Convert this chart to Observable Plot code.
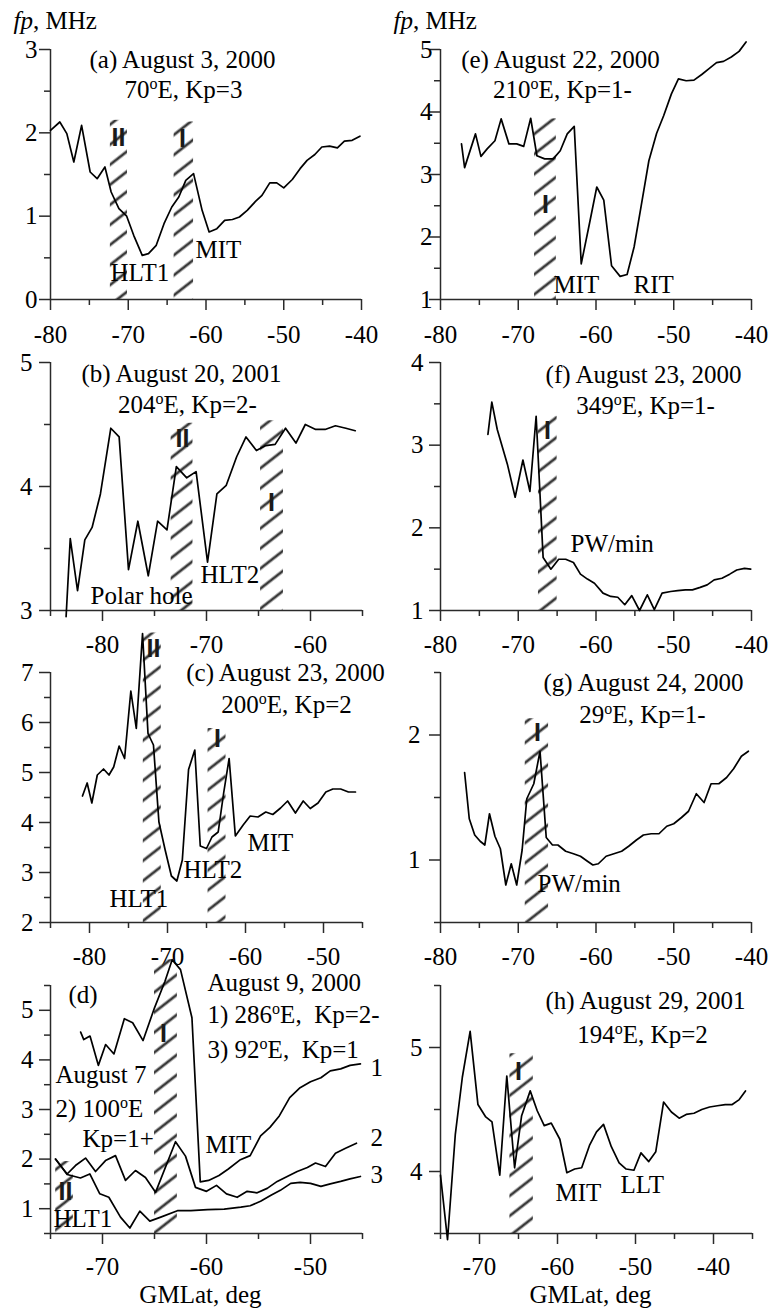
<!DOCTYPE html>
<html><head><meta charset="utf-8">
<script src="https://cdn.jsdelivr.net/npm/d3@7"></script>
<script src="https://cdn.jsdelivr.net/npm/@observablehq/plot@0.6"></script>
<style>
html,body{margin:0;padding:0;background:#fff;overflow:hidden}
#wrap{position:relative;width:771px;height:1309px}
#wrap svg{position:absolute;left:0;top:0;font-family:'Liberation Serif','Times New Roman',serif}
#wrap text{white-space:pre}
#wrap g[aria-label*="tick label"] text{font-family:'Liberation Serif','Times New Roman',serif;font-size:25px}
</style></head><body><div id="wrap"></div>
<script>
// ---------- DATA ----------
// (a) August 3, 2000
const aLat = [-80,-78.8,-77.9,-77.0,-76.0,-74.9,-74.0,-73.0,-72.2,-71.2,-70.2,-69.3,-68.2,-67.4,-66.4,-65.4,-64.4,-63.5,-62.6,-61.6,-60.5,-59.6,-58.6,-57.6,-56.6,-55.7,-54.7,-53.6,-52.8,-51.8,-50.9,-50.0,-48.9,-47.9,-47.0,-46.0,-45.1,-44.1,-43.1,-42.2,-41.2,-40.2];
const aFp = [2.03,2.13,1.99,1.65,2.09,1.53,1.45,1.59,1.29,1.09,1.00,0.77,0.53,0.55,0.65,0.91,1.11,1.23,1.43,1.51,1.07,0.81,0.85,0.95,0.96,0.99,1.07,1.18,1.25,1.40,1.40,1.34,1.44,1.57,1.67,1.74,1.83,1.84,1.82,1.90,1.91,1.96];
const aBandLo = [-72.3,-64.1], aBandHi = [-70.1,-61.6], aBandTop = [2.15,2.13];
const aNotes = ["(a) August 3, 2000","70ºE, Kp=3","HLT1","MIT","fp, MHz"];
const aRoman = ["II","I"];
// (e) August 22, 2000
const eLat = [-77.3,-76.9,-75.5,-74.8,-74.0,-73.0,-72.2,-71.2,-70.2,-69.3,-68.4,-67.6,-66.6,-65.5,-64.6,-63.7,-62.8,-61.9,-60.8,-59.9,-59.0,-58.0,-56.9,-56.0,-55.1,-54.2,-53.2,-52.2,-51.3,-50.3,-49.4,-48.4,-47.4,-46.4,-45.5,-44.5,-43.6,-42.6,-41.6,-40.7];
const eFp = [3.49,3.11,3.65,3.29,3.41,3.54,3.89,3.49,3.49,3.45,3.90,3.30,3.25,3.25,3.38,3.65,3.77,1.57,2.24,2.80,2.59,1.54,1.37,1.40,1.84,2.49,3.22,3.66,3.94,4.29,4.53,4.50,4.51,4.60,4.69,4.79,4.81,4.88,4.97,5.12];
const eBandLo = [-67.9], eBandHi = [-65.1], eBandTop = [3.89];
const eNotes = ["(e) August 22, 2000","210ºE, Kp=1-","MIT","RIT","fp, MHz"];
const eRoman = ["I"];
// (b) August 20, 2001
const bLat = [-83.5,-83.1,-82.4,-81.7,-81.0,-80.2,-79.2,-78.4,-77.5,-76.6,-75.6,-74.7,-73.8,-72.9,-71.9,-71.0,-69.9,-69.0,-68.1,-67.1,-66.2,-65.2,-64.3,-63.4,-62.4,-61.4,-60.5,-59.5,-58.6,-57.6,-56.6,-55.7];
const bFp = [2.95,3.58,3.16,3.57,3.67,3.94,4.47,4.40,3.33,3.72,3.28,3.72,3.65,4.16,4.07,4.12,3.39,3.94,4.01,4.24,4.40,4.29,4.33,4.34,4.47,4.35,4.50,4.46,4.46,4.49,4.47,4.45];
const bBandLo = [-73.4,-64.8], bBandHi = [-71.3,-62.6], bBandTop = [4.51,4.53];
const bNotes = ["(b) August 20, 2001","204ºE, Kp=2-","HLT2","Polar hole"];
const bRoman = ["II","I"];
// (f) August 23, 2000
const fLat = [-73.9,-73.4,-72.7,-71.4,-70.4,-69.4,-68.5,-67.7,-66.8,-65.8,-64.8,-63.9,-62.9,-62.0,-61.1,-60.2,-59.1,-58.1,-57.2,-56.3,-55.4,-54.4,-53.4,-52.5,-51.5,-50.4,-49.5,-48.5,-47.6,-46.6,-45.7,-44.8,-43.8,-42.8,-41.9,-40.9,-40.1];
const fFp = [3.13,3.52,3.19,2.77,2.37,2.82,2.44,3.35,1.64,1.50,1.62,1.62,1.58,1.44,1.38,1.33,1.21,1.17,1.16,1.07,1.18,1.00,1.19,1.01,1.21,1.23,1.24,1.25,1.25,1.28,1.31,1.37,1.39,1.44,1.49,1.51,1.50];
const fBandLo = [-67.4], fBandHi = [-65.0], fBandTop = [3.35];
const fNotes = ["(f) August 23, 2000","349ºE, Kp=1-","PW/min"];
const fRoman = ["I"];
// (c) August 23, 2000
const cLat = [-80.9,-80.3,-79.7,-79.0,-78.2,-77.5,-76.9,-76.2,-75.5,-74.7,-74.0,-73.2,-72.5,-71.8,-71.1,-70.3,-69.5,-68.8,-68.1,-67.3,-66.5,-65.8,-65.0,-64.3,-63.5,-62.8,-62.1,-61.3,-60.3,-59.4,-58.4,-57.4,-56.5,-55.5,-54.6,-53.6,-52.6,-51.7,-50.7,-49.7,-48.8,-47.8,-46.8,-45.9];
const cFp = [4.53,4.79,4.39,4.95,5.07,4.95,5.11,5.53,5.28,6.63,5.88,7.78,5.78,5.55,4.01,3.45,2.93,2.83,3.25,5.06,5.45,3.53,3.48,3.71,3.81,4.59,5.28,3.73,3.95,4.13,4.11,4.21,4.16,4.29,4.43,4.19,4.43,4.28,4.39,4.61,4.67,4.67,4.61,4.61];
const cBandLo = [-73.1,-64.8], cBandHi = [-70.8,-62.5], cBandTop = [7.79,5.88];
const cNotes = ["(c) August 23, 2000","200ºE, Kp=2","HLT2","HLT1","MIT"];
const cRoman = ["II","I"];
// (g) August 24, 2000
const gLat = [-76.9,-76.3,-75.6,-74.9,-74.3,-73.7,-73.0,-72.3,-71.6,-70.9,-70.2,-69.5,-68.9,-68.0,-67.2,-66.4,-65.6,-64.9,-63.9,-62.9,-62.0,-61.1,-60.4,-59.7,-58.7,-57.7,-56.7,-55.8,-54.8,-53.9,-52.9,-51.9,-50.9,-50.0,-49.0,-48.1,-47.1,-46.1,-45.2,-44.2,-43.2,-42.3,-41.3,-40.4];
const gFp = [1.70,1.33,1.20,1.15,1.12,1.37,1.19,1.09,0.80,0.97,0.80,1.08,1.49,1.61,1.87,1.18,1.12,1.12,1.07,1.05,1.03,0.99,0.96,0.97,1.03,1.05,1.07,1.11,1.16,1.20,1.21,1.21,1.27,1.29,1.34,1.39,1.53,1.46,1.61,1.61,1.66,1.73,1.83,1.87];
const gBandLo = [-69.1], gBandHi = [-66.1], gBandTop = [2.13];
const gNotes = ["(g) August 24, 2000","29ºE, Kp=1-","PW/min"];
const gRoman = ["I"];
// (d) August 9, 2000 (curves 1, 3) and August 7 (curve 2)
const d1Lat = [-72.1,-71.8,-71.2,-70.4,-69.7,-68.9,-67.9,-67.1,-66.1,-65.0,-64.0,-63.3,-62.5,-61.4,-60.6,-59.8,-58.8,-57.9,-56.8,-55.8,-54.8,-53.9,-53.0,-52.0,-51.0,-50.0,-49.0,-48.1,-47.1,-46.2,-45.2];
const d1Fp = [4.56,4.41,4.48,3.89,4.31,4.12,4.83,4.75,4.39,5.05,5.58,6.02,5.82,4.85,1.54,1.57,1.67,1.80,1.98,2.07,2.47,2.64,2.87,3.24,3.44,3.56,3.64,3.78,3.82,3.89,3.92];
const d2Lat = [-74.52,-73.40,-72.60,-71.63,-70.67,-69.71,-68.75,-67.79,-66.83,-65.87,-64.90,-62.98,-62.02,-61.06,-60.0,-59.04,-58.08,-57.05,-56.09,-55.13,-54.16,-53.2,-52.24,-51.28,-50.3,-49.52,-48.56,-47.6,-46.63,-45.58];
const d2Fp = [2.00,1.70,1.87,2.02,1.75,1.97,2.07,1.57,1.77,1.63,1.33,2.35,2.06,1.43,1.35,1.47,1.30,1.23,1.35,1.32,1.41,1.55,1.65,1.75,1.83,1.92,1.85,2.12,2.22,2.32];
const d3Lat = [-74.52,-73.40,-72.12,-71.22,-70.26,-69.39,-68.27,-67.37,-66.41,-65.45,-64.4,-62.8,-61.5,-59.9,-58.3,-56.7,-55.8,-54.8,-53.8,-52.9,-51.9,-51.0,-50.0,-49.0,-48.1,-47.1,-46.2,-45.2];
const d3Fp = [2.00,1.69,1.62,1.70,1.30,1.23,0.83,0.61,0.95,0.75,0.83,0.96,0.96,0.98,0.99,1.03,1.06,1.15,1.27,1.37,1.51,1.53,1.51,1.45,1.50,1.55,1.60,1.65];
const dBandLo = [-74.5,-65.0], dBandHi = [-72.8,-62.8], dBandTop = [1.95,6.02];
const dNotes = ["(d)","August 9, 2000","1) 286ºE,  Kp=2-","3) 92ºE,  Kp=1","August 7","2) 100ºE","Kp=1+","MIT","1","2","3","HLT1","GMLat, deg"];
const dRoman = ["II","I"];
// (h) August 29, 2001
const hLat = [-75.0,-74.1,-73.1,-72.2,-71.2,-70.2,-69.2,-68.4,-67.4,-66.5,-65.5,-64.6,-63.5,-62.6,-61.7,-60.8,-59.7,-58.8,-57.8,-56.9,-55.9,-55.0,-54.1,-53.1,-52.1,-51.2,-50.2,-49.3,-48.3,-47.4,-46.4,-45.4,-44.4,-43.5,-42.5,-41.5,-40.5,-39.5,-38.5,-37.6,-36.7,-35.9];
const hFp = [3.97,3.45,4.30,4.76,5.13,4.54,4.44,4.40,3.97,4.77,4.03,4.45,4.65,4.49,4.37,4.39,4.26,3.99,4.02,4.03,4.21,4.32,4.38,4.20,4.07,4.02,4.01,4.15,4.08,4.16,4.56,4.48,4.43,4.46,4.47,4.50,4.52,4.53,4.54,4.54,4.58,4.65];
const hBandLo = [-66.1], hBandHi = [-63.1], hBandTop = [4.95];
const hNotes = ["(h) August 29, 2001","194ºE, Kp=2","MIT","LLT","GMLat, deg"];
const hRoman = ["I"];

// tick values
const xTicksA = {major: [-80,-70,-60,-50,-40], minor: [-75,-65,-55,-45]};
const xTicksB = {major: [-80,-70,-60], minor: [-85,-75,-65,-55]};
const xTicksC = {major: [-80,-70,-60,-50], minor: [-85,-75,-65,-55,-45]};
const xTicksD = {major: [-70,-60,-50], minor: [-75,-65,-55,-45]};
const xTicksH = {major: [-70,-60,-50,-40], minor: [-75,-65,-55,-45,-35]};

// ---------- RENDER ----------
const W = 771, H = 1309;
const zip = (xs, ys) => xs.map((x, i) => ({lat: x, fp: ys[i]}));
const bandsOf = (lo, hi, top, base) => lo.map((l, i) => ({lo: l, hi: hi[i], top: top[i], base}));
const range = (a, b, s) => d3.range(a, b + s / 2, s).map(v => +v.toFixed(2));

function panel(cfg) {
  const [L, R, T, B] = cfg.box;
  const [x0, x1] = cfg.xd, [y0, y1] = cfg.yd;
  const yAll = range(y0, y1, 0.5);
  const yMajor = yAll.filter(v => Number.isInteger(v));
  const yMinor = yAll.filter(v => !Number.isInteger(v));
  const notes = cfg.notes.map((t, i) => ({t, x: cfg.notePos[i][0], y: cfg.notePos[i][1], a: cfg.notePos[i][2]}));
  const roman = cfg.roman.map((t, i) => ({t, x: cfg.romanPos[i][0], y: cfg.romanPos[i][1]}));
  const ax = "#2a2a2a";
  const marks = [
    Plot.rect(bandsOf(cfg.band[0], cfg.band[1], cfg.band[2], y0), {x1: "lo", x2: "hi", y1: "base", y2: "top", fill: "url(#hatch)"}),
    Plot.ruleX([x0], {stroke: ax, strokeWidth: 1.5}),
    Plot.ruleY([y0], {stroke: ax, strokeWidth: 1.5}),
    Plot.axisX({ticks: cfg.xt.major, tickSize: 11, tickPadding: cfg.xPad, tickFormat: d => String(d), label: null, stroke: ax, strokeWidth: 1.5, fill: "#000"}),
    Plot.ruleX(cfg.xt.minor, {y1: y0, y2: y0, insetBottom: -6, stroke: ax, strokeWidth: 1.5}),
    Plot.axisY({ticks: yMajor, tickSize: 11, tickPadding: cfg.yPad, tickFormat: d => String(d), label: null, stroke: ax, strokeWidth: 1.5, fill: "#000"}),
    Plot.ruleY(yMinor, {x1: x0, x2: x0, insetLeft: -6, stroke: ax, strokeWidth: 1.5})
  ];
  for (const s of cfg.series) marks.push(Plot.line(s, {x: "lat", y: "fp", stroke: "#000", strokeWidth: 1.7, curve: "linear"}));
  marks.push(Plot.text(notes.filter(d => d.a === "m"), {x: "x", y: "y", text: "t", textAnchor: "middle", lineAnchor: "bottom", fill: "#000"}));
  marks.push(Plot.text(notes.filter(d => d.a === "s"), {x: "x", y: "y", text: "t", textAnchor: "start", lineAnchor: "bottom", fill: "#000"}));
  marks.push(Plot.text(roman, {x: "x", y: "y", text: "t", textAnchor: "middle", lineAnchor: "bottom", fill: "#1a1a1a", fontFamily: "'Liberation Sans', Arial, sans-serif", fontWeight: "bold", fontSize: 25}));
  const svg = Plot.plot({
    width: W, height: H,
    marginLeft: L, marginRight: W - R, marginTop: T, marginBottom: H - B,
    x: {domain: cfg.xd}, y: {domain: cfg.yd},
    style: {fontFamily: "'Liberation Serif', 'Times New Roman', serif", fontSize: "25px", background: "transparent", overflow: "visible", color: "#000"},
    marks
  });
  return svg;
}

const panels = [
  {box: [50, 361, 49, 299], xd: [-80, -40], yd: [0, 3], xt: xTicksA, xPad: 15, yPad: 2,
   series: [zip(aLat, aFp)], band: [aBandLo, aBandHi, aBandTop],
   notes: aNotes, notePos: [[-63.02, 2.784, "m"], [-62.9, 2.424, "m"], [-72.28, 0.228, "s"], [-61.35, 0.504, "s"], [-84.76, 3.252, "s"]],
   roman: aRoman, romanPos: [[-71.25, 1.84], [-63.02, 1.83]]},
  {box: [440, 751, 49, 299], xd: [-80, -40], yd: [1, 5], xt: xTicksA, xPad: 15, yPad: -3,
   series: [zip(eLat, eFp)], band: [eBandLo, eBandHi, eBandTop],
   notes: eNotes, notePos: [[-64.57, 4.712, "m"], [-64.31, 4.232, "m"], [-65.47, 1.112, "s"], [-55.18, 1.112, "s"], [-86.05, 5.336, "s"]],
   roman: eRoman, romanPos: [[-66.5, 2.39]]},
  {box: [50, 362, 362, 610], xd: [-85, -55], yd: [3, 5], xt: xTicksB, xPad: 14, yPad: 7,
   series: [zip(bLat, bFp)], band: [bBandLo, bBandHi, bBandTop],
   notes: bNotes, notePos: [[-72.4, 4.839, "m"], [-71.83, 4.589, "m"], [-70.58, 3.218, "s"], [-81.15, 3.056, "s"]],
   roman: bRoman, romanPos: [[-72.31, 4.32], [-63.75, 3.80]]},
  {box: [440, 751, 362, 610], xd: [-80, -40], yd: [1, 4], xt: xTicksA, xPad: 14, yPad: 6,
   series: [zip(fLat, fFp)], band: [fBandLo, fBandHi, fBandTop],
   notes: fNotes, notePos: [[-53.89, 3.758, "m"], [-53.63, 3.383, "m"], [-63.28, 1.702, "s"]],
   roman: fRoman, romanPos: [[-66.24, 3.07]]},
  {box: [50, 362, 672, 922], xd: [-85, -45], yd: [2, 7], xt: xTicksC, xPad: 14, yPad: 6,
   series: [zip(cLat, cFp)], band: [cBandLo, cBandHi, cBandTop],
   notes: cNotes, notePos: [[-54.87, 6.84, "m"], [-54.74, 6.2, "m"], [-67.95, 2.9, "s"], [-77.44, 2.32, "s"], [-59.74, 3.44, "s"]],
   roman: cRoman, romanPos: [[-71.79, 7.32], [-63.59, 5.52]]},
  {box: [440, 751, 672, 922], xd: [-80, -40], yd: [0.5, 2.5], xt: xTicksA, xPad: 14, yPad: 9,
   series: [zip(gLat, gFp)], band: [gBandLo, gBandHi, gBandTop],
   notes: gNotes, notePos: [[-53.89, 2.356, "m"], [-54.02, 2.1, "m"], [-67.52, 0.748, "s"]],
   roman: gRoman, romanPos: [[-67.52, 1.95]]},
  {box: [50, 362, 985, 1233], xd: [-75, -45], yd: [0.5, 5.5], xt: xTicksD, xPad: 13, yPad: 6,
   series: [zip(d1Lat, d1Fp), zip(d2Lat, d2Fp), zip(d3Lat, d3Fp)], band: [dBandLo, dBandHi, dBandTop],
   notes: dNotes, notePos: [[-73.27, 5.157, "s"], [-59.9, 5.38, "s"], [-59.9, 4.734, "s"], [-59.9, 4.048, "s"], [-74.52, 3.544, "s"], [-74.52, 2.839, "s"], [-71.92, 2.234, "s"], [-60.1, 2.133, "s"], [-44.23, 3.685, "s"], [-44.23, 2.274, "s"], [-44.23, 1.528, "s"], [-74.71, 0.641, "s"], [-60.58, -0.911, "m"]],
   roman: dRoman, romanPos: [[-73.56, 1.18], [-64.13, 4.37]]},
  {box: [440, 752, 985, 1233], xd: [-75, -35], yd: [3.5, 5.5], xt: xTicksH, xPad: 13, yPad: 7,
   series: [zip(hLat, hFp)], band: [hBandLo, hBandHi, hBandTop],
   notes: hNotes, notePos: [[-48.72, 5.31, "m"], [-49.1, 5.04, "m"], [-60.26, 3.765, "s"], [-51.92, 3.83, "s"], [-55.77, 2.937, "m"]],
   roman: hRoman, romanPos: [[-65.0, 4.74]]}
];

const wrap = document.getElementById("wrap");
const NS = "http://www.w3.org/2000/svg";
panels.forEach((cfg, k) => {
  const svg = panel(cfg);
  if (k === 0) {
    const defs = document.createElementNS(NS, "defs");
    const pat = document.createElementNS(NS, "pattern");
    pat.setAttribute("id", "hatch");
    pat.setAttribute("patternUnits", "userSpaceOnUse");
    pat.setAttribute("width", "12");
    pat.setAttribute("height", "15.8");
    pat.setAttribute("patternTransform", "rotate(-38)");
    const ln = document.createElementNS(NS, "line");
    ln.setAttribute("x1", "-1"); ln.setAttribute("x2", "13");
    ln.setAttribute("y1", "7.9"); ln.setAttribute("y2", "7.9");
    ln.setAttribute("stroke", "#3a3a3a"); ln.setAttribute("stroke-width", "2.8");
    pat.appendChild(ln); defs.appendChild(pat);
    svg.insertBefore(defs, svg.firstChild);
  }
  wrap.appendChild(svg);
});

// superscript "o" for degrees, italic "fp"
for (const t of wrap.querySelectorAll("text")) {
  if (t.children.length) continue;
  const s = t.textContent;
  if (s.includes("º")) {
    const [p0, p1] = s.split("º");
    t.textContent = "";
    const a = document.createElementNS(NS, "tspan"); a.textContent = p0;
    const o = document.createElementNS(NS, "tspan"); o.textContent = "o"; o.setAttribute("font-size", "16"); o.setAttribute("dy", "-9");
    const b = document.createElementNS(NS, "tspan"); b.textContent = p1; b.setAttribute("dy", "9");
    t.append(a, o, b);
  } else if (s.startsWith("fp,")) {
    t.textContent = "";
    const a = document.createElementNS(NS, "tspan"); a.textContent = "fp"; a.setAttribute("font-style", "italic");
    const b = document.createElementNS(NS, "tspan"); b.textContent = s.slice(2);
    t.append(a, b);
  }
}
</script></body></html>
